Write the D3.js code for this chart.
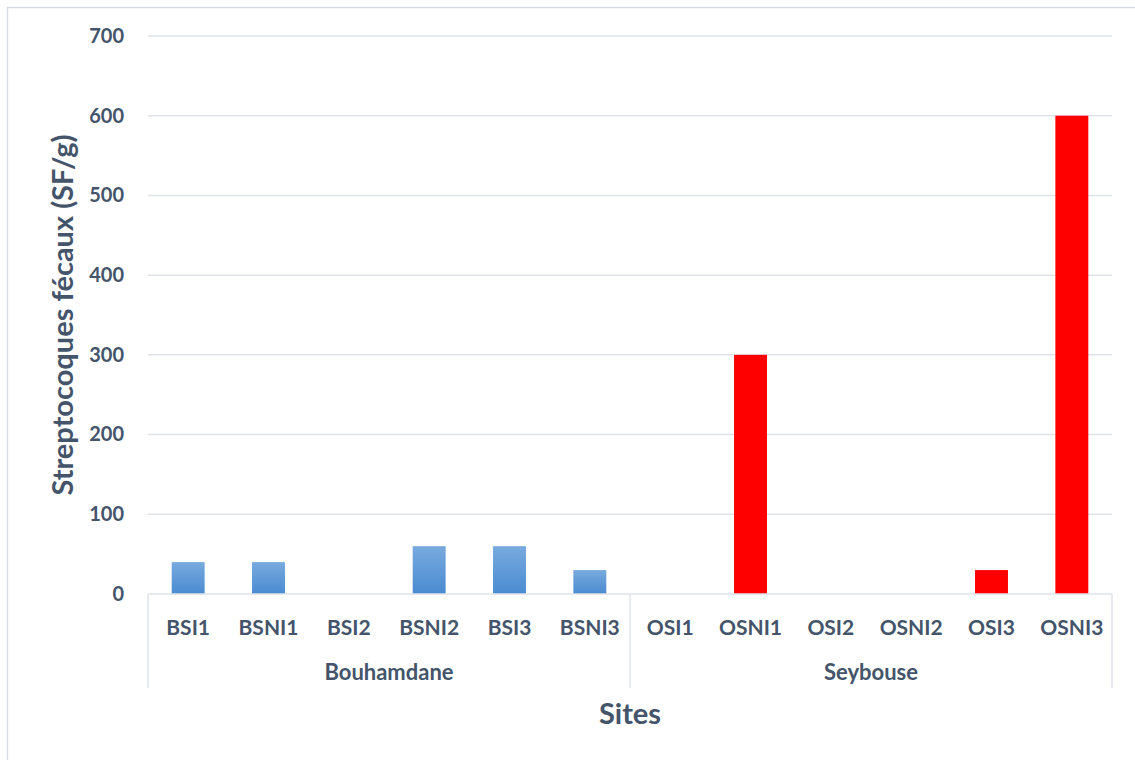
<!DOCTYPE html>
<html>
<head>
<meta charset="utf-8">
<script src="https://cdn.jsdelivr.net/npm/d3@7"></script>
<style>
  html, body { margin: 0; padding: 0; background: #fff; }
  svg { display: block; }
  text { font-family: Lato, "Open Sans", sans-serif; font-weight: bold; fill: #44546a; }
</style>
</head>
<body>
<svg id="chart" width="1135" height="760"></svg>
<script>
// Sites, grouped by river
const sites = ["BSI1", "BSNI1", "BSI2", "BSNI2", "BSI3", "BSNI3",
               "OSI1", "OSNI1", "OSI2", "OSNI2", "OSI3", "OSNI3"];
const groups = ["Bouhamdane", "Seybouse"];
const siteGroup = ["Bouhamdane", "Bouhamdane", "Bouhamdane", "Bouhamdane", "Bouhamdane", "Bouhamdane",
                   "Seybouse", "Seybouse", "Seybouse", "Seybouse", "Seybouse", "Seybouse"];
// Faecal streptococci counts (SF/g)
const values = [40, 40, 0, 60, 60, 30, 0, 300, 0, 0, 30, 600];
const yTicks = [0, 100, 200, 300, 400, 500, 600, 700];

const svg = d3.select("#chart");
const plotLeft = 148, plotRight = 1112, plotTop = 36, plotBottom = 594;
const fontStack = "Lato, 'Open Sans', sans-serif";

// outer chart frame (cropped on right and bottom)
svg.append("path")
  .attr("d", "M7.5,760 V7.5 H1135")
  .attr("fill", "none").attr("stroke", "#d9dde3").attr("stroke-width", 1.5);

const x = d3.scaleBand().domain(sites).range([plotLeft, plotRight]).paddingInner(0.59).paddingOuter(0.295);
const y = d3.scaleLinear().domain([0, 700]).range([plotBottom, plotTop]);

// gridlines
svg.append("g").selectAll("line").data(yTicks.filter(d => d > 0)).join("line")
  .attr("x1", plotLeft).attr("x2", plotRight)
  .attr("y1", d => y(d)).attr("y2", d => y(d))
  .attr("stroke", "#dfe3e9").attr("stroke-width", 1.5);

// y axis tick labels
const yAxis = d3.axisLeft(y).tickValues(yTicks).tickSize(0).tickPadding(24);
const gy = svg.append("g").attr("transform", `translate(${plotLeft},0)`).call(yAxis);
gy.select(".domain").remove();
gy.selectAll("text").style("font-size", "20px").style("font-family", fontStack)
  .style("font-weight", "bold").attr("fill", "#44546a");

// gradient for Bouhamdane bars
const defs = svg.append("defs");
const grad = defs.append("linearGradient").attr("id", "blueGrad")
  .attr("x1", 0).attr("y1", 0).attr("x2", 0).attr("y2", 1);
grad.append("stop").attr("offset", "0%").attr("stop-color", "#78aade");
grad.append("stop").attr("offset", "100%").attr("stop-color", "#4a8bd1");

// bars
svg.append("g").selectAll("rect").data(sites).join("rect")
  .attr("x", d => x(d))
  .attr("width", x.bandwidth())
  .attr("y", (d, i) => y(values[i]))
  .attr("height", (d, i) => y(0) - y(values[i]))
  .attr("fill", (d, i) => siteGroup[i] === "Bouhamdane" ? "url(#blueGrad)" : "#ff0000");

// category axis baseline
svg.append("line").attr("x1", plotLeft).attr("x2", plotRight).attr("y1", plotBottom).attr("y2", plotBottom)
  .attr("stroke", "#dfe3e9").attr("stroke-width", 1.5);

// site labels
const xAxis = d3.axisBottom(x).tickSize(0).tickPadding(26);
const gx = svg.append("g").attr("transform", `translate(0,${plotBottom})`).call(xAxis);
gx.select(".domain").remove();
gx.selectAll("text").style("font-size", "21px").style("font-family", fontStack)
  .style("font-weight", "bold").attr("fill", "#44546a");

// group separators and labels
const groupBounds = groups.map(g => {
  const members = sites.filter((s, i) => siteGroup[i] === g);
  const step = x.step();
  return {
    name: g,
    x0: x(members[0]) - x.paddingInner() * step / 2,
    x1: x(members[members.length - 1]) + x.bandwidth() + x.paddingInner() * step / 2
  };
});
const seps = [plotLeft, (groupBounds[0].x1 + groupBounds[1].x0) / 2, plotRight];
svg.append("g").selectAll("line").data(seps).join("line")
  .attr("x1", d => d).attr("x2", d => d)
  .attr("y1", plotBottom).attr("y2", 688)
  .attr("stroke", "#dfe3e9").attr("stroke-width", 1.5);
svg.append("g").selectAll("text").data(groupBounds).join("text")
  .attr("x", d => (d.x0 + d.x1) / 2).attr("y", 680)
  .attr("text-anchor", "middle").style("font-size", "22px")
  .text(d => d.name);

// axis titles
svg.append("text").attr("x", (plotLeft + plotRight) / 2).attr("y", 724)
  .attr("text-anchor", "middle").style("font-size", "29px").text("Sites");
svg.append("text")
  .attr("transform", `translate(73,${(plotTop + plotBottom) / 2}) rotate(-90)`)
  .attr("text-anchor", "middle").style("font-size", "29px").text("Streptocoques fécaux (SF/g)");
</script>
</body>
</html>
